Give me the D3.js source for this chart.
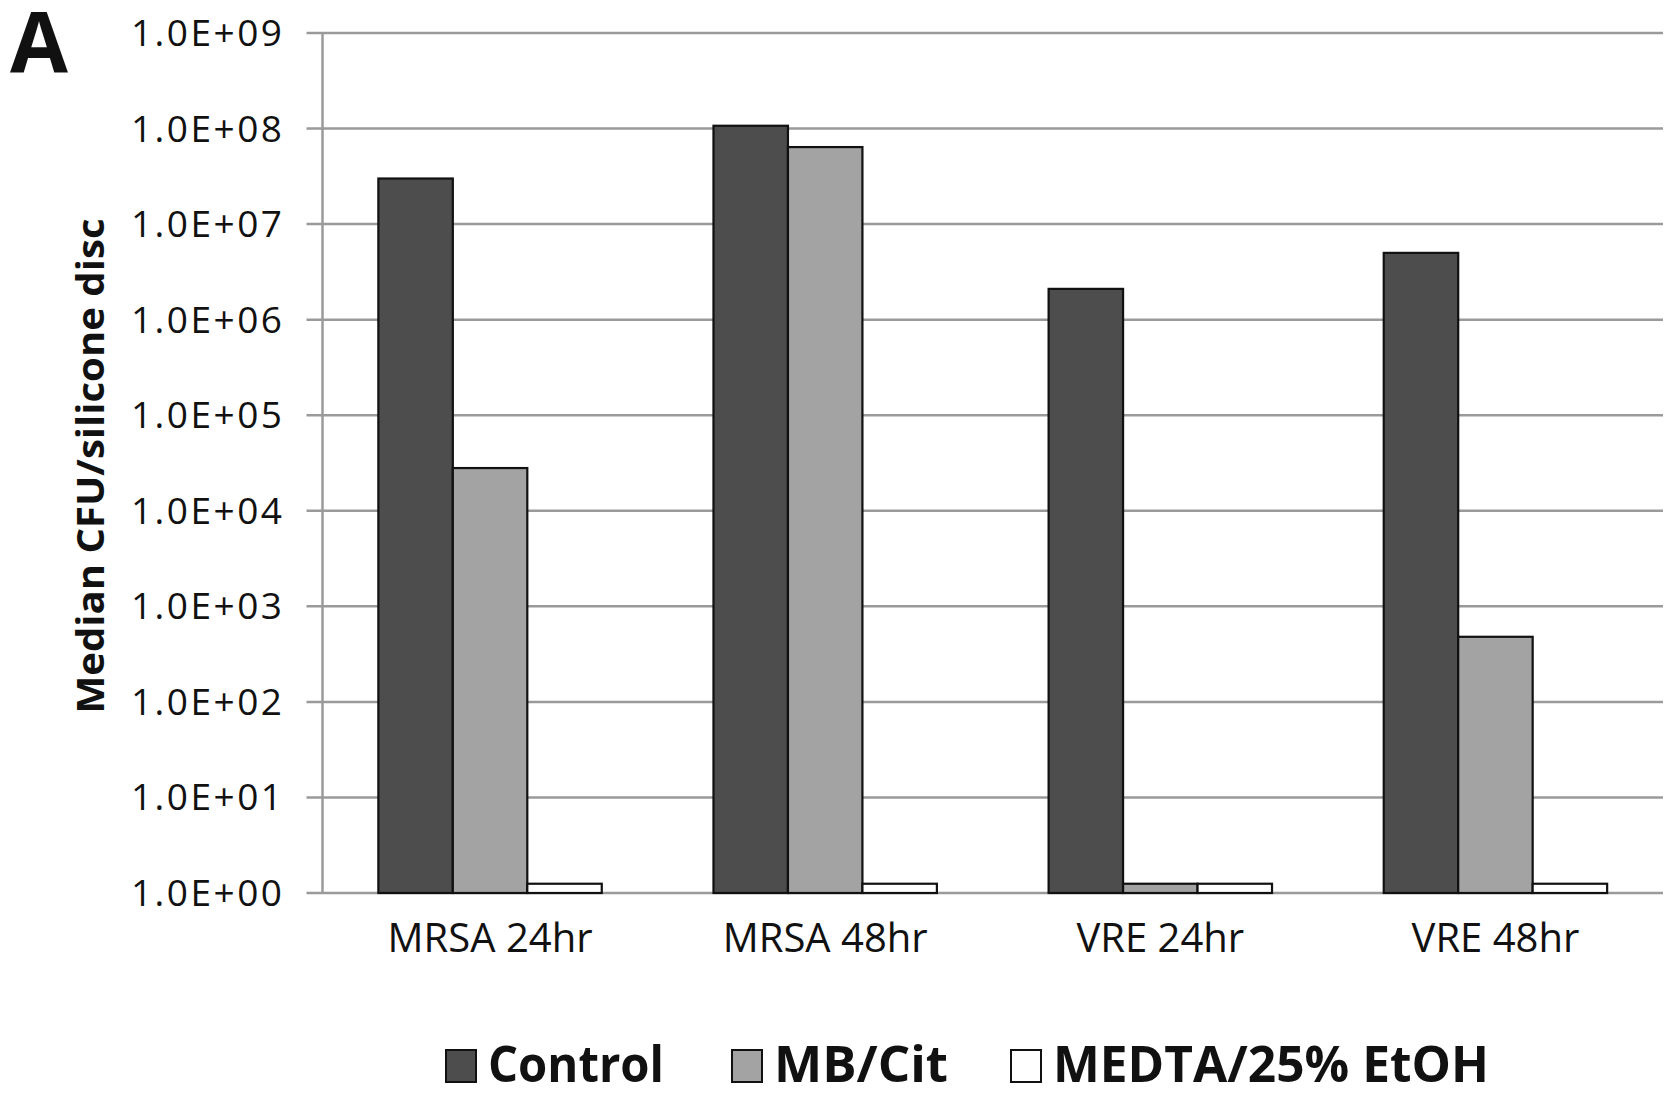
<!DOCTYPE html>
<html>
<head>
<meta charset="utf-8">
<script src="https://cdn.jsdelivr.net/npm/d3@7"></script>
<style>
    body { margin: 0; background: #fff; }
    svg text { font-family: "Open Sans", sans-serif; fill: #111; }
</style>
</head>
<body>
<div id="chart"></div>
<script>
// data
const categories = ["MRSA 24hr", "MRSA 48hr", "VRE 24hr", "VRE 48hr"];
const seriesNames = ["Control", "MB/Cit", "MEDTA/25% EtOH"];
const controlValues = [3.0e7, 1.07e8, 2.1e6, 5.0e6];
const mbCitValues = [2.8e4, 6.4e7, 1.25, 4.8e2];
const medtaValues = [1.25, 1.25, 1.25, 1.25];
const tickValues = [1e0, 1e1, 1e2, 1e3, 1e4, 1e5, 1e6, 1e7, 1e8, 1e9];
const tickLabels = ["1.0E+00", "1.0E+01", "1.0E+02", "1.0E+03", "1.0E+04",
    "1.0E+05", "1.0E+06", "1.0E+07", "1.0E+08", "1.0E+09"];
const seriesColors = ["#4d4d4d", "#a3a3a3", "#ffffff"];

window.onload = () => {
    const w = 1669;
    const h = 1094;
    const left = 322.5, right = 1663, top = 33, bottom = 893;

    const svg = d3.select("#chart").append("svg")
        .attr("width", w)
        .attr("height", h);

    const allSeries = [controlValues, mbCitValues, medtaValues];

    const y = d3.scaleLog().domain([1, 1e9]).range([bottom, top]);
    const x0 = d3.scaleBand().domain(categories).range([left, right])
        .paddingInner(1 / 3).paddingOuter(1 / 6);
    const x1 = d3.scaleBand().domain(seriesNames).range([0, x0.bandwidth()]);

    // gridlines
    svg.append("g")
        .selectAll("line")
        .data(tickValues)
        .enter()
        .append("line")
        .attr("x1", left - 16)
        .attr("x2", right)
        .attr("y1", d => y(d))
        .attr("y2", d => y(d))
        .style("stroke", "#9a9a9a")
        .style("stroke-width", 2.5);

    // vertical axis line
    svg.append("line")
        .attr("x1", left).attr("x2", left)
        .attr("y1", y(1e9)).attr("y2", y(1))
        .style("stroke", "#9a9a9a")
        .style("stroke-width", 2.5);

    // tick labels
    svg.append("g")
        .selectAll("text")
        .data(tickValues)
        .enter()
        .append("text")
        .text((d, i) => tickLabels[i])
        .attr("x", left - 38)
        .attr("y", d => y(d) + 13)
        .attr("text-anchor", "end")
        .style("font-size", "37px")
        .style("letter-spacing", "2.5px");

    // bars
    const groups = svg.append("g")
        .selectAll("g")
        .data(categories)
        .enter()
        .append("g")
        .attr("transform", d => `translate(${x0(d)},0)`);

    groups.selectAll("rect")
        .data((c, ci) => seriesNames.map((s, si) => ({ s: s, si: si, v: allSeries[si][ci] })))
        .enter()
        .append("rect")
        .attr("x", d => x1(d.s))
        .attr("y", d => y(d.v))
        .attr("width", x1.bandwidth())
        .attr("height", d => y(1) - y(d.v))
        .style("fill", d => seriesColors[d.si])
        .style("stroke", "#111")
        .style("stroke-width", 2.2);

    // category labels
    svg.append("g")
        .selectAll("text")
        .data(categories)
        .enter()
        .append("text")
        .text(d => d)
        .attr("x", d => x0(d) + x0.bandwidth() / 2)
        .attr("y", 952)
        .attr("text-anchor", "middle")
        .style("font-size", "40px");

    // y axis title
    svg.append("text")
        .text("Median CFU/silicone disc")
        .attr("transform", "translate(104,466) rotate(-90)")
        .attr("text-anchor", "middle")
        .attr("textLength", 495)
        .attr("lengthAdjust", "spacingAndGlyphs")
        .style("font-size", "37px")
        .style("font-weight", "bold");

    // panel letter
    svg.append("text")
        .text("A")
        .attr("x", 10)
        .attr("y", 72)
        .style("font-size", "84px")
        .style("font-weight", "bold");

    // legend
    const legendX = [446, 732, 1011];
    const legendLen = [176, 174, 436];
    const legend = svg.append("g")
        .selectAll("g")
        .data(seriesNames)
        .enter()
        .append("g")
        .attr("transform", (d, i) => `translate(${legendX[i]},1050)`);

    legend.append("rect")
        .attr("width", 30)
        .attr("height", 32)
        .style("fill", (d, i) => seriesColors[i])
        .style("stroke", "#111")
        .style("stroke-width", 2);

    legend.append("text")
        .text(d => d)
        .attr("x", 42)
        .attr("y", 32)
        .attr("textLength", (d, i) => legendLen[i])
        .attr("lengthAdjust", "spacingAndGlyphs")
        .style("font-size", "50px")
        .style("font-weight", "bold");
};
</script>
</body>
</html>
